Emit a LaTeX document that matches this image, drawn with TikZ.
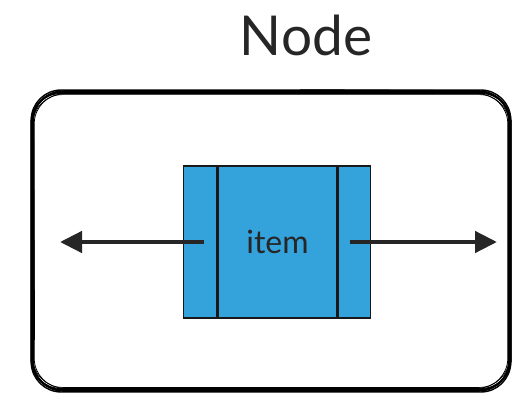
\documentclass[tikz,border=0pt]{standalone}
\usepackage{fontspec}
\setmainfont{Lato}
\usetikzlibrary{positioning,arrows.meta}

\begin{document}
\begin{tikzpicture}
          [ x=1pt, y=-1pt,
            cell/.style={
              rectangle,
              draw=black!90,
              line width=1.6pt,
              fill={rgb,255:red,52;green,163;blue,219},
              minimum height=152pt,
              inner sep=0pt,
              font=\fontsize{32}{35}\selectfont,
              text=black!85},
            link/.style={
              draw=black!85,
              line width=4.5pt,
              -{Triangle[length=22pt,width=21pt]},
            },
            sketch/.style={
              draw=black,
              rounded corners=30pt,
            },
          ]
          \useasboundingbox (0,0) rectangle (515,394);

          % title
          \node (title) at (306,35) {\fontsize{55}{60}\selectfont\color{black!85}Node};

          % rough outline of the node
          \foreach \dx/\dy/\w in {0/0/2.2, 1.5/-1.2/1.2, -1.2/1.5/1.0, 2.2/1.8/0.8, -0.8/-2/1.4, 0.6/2.6/0.7}
            \draw[sketch, line width=\w pt] (32+\dx,92+\dy) rectangle (510-\dx,390-\dy);
          \draw[sketch, line width=3.5pt] (300,91) -- (480,92);
          \draw[sketch, line width=3pt] (60,389) -- (470,389);
          \draw[sketch, line width=2pt] (33,140) -- (34,340);

          % the item with its two links
          \node (item) [cell, minimum width=119pt] at (277.5,242) {item};
          \node (prev) [cell, minimum width=33pt, left=0pt of item] {};
          \node (next) [cell, minimum width=32pt, right=0pt of item] {};

          \coordinate (prevend) at (60,242);
          \coordinate (nextend) at (497,242);

          \draw[link] ([xshift=4pt]prev.center) -- (prevend);
          \draw[link] ([xshift=-5pt]next.center) -- (nextend);

        \end{tikzpicture}
\end{document}
